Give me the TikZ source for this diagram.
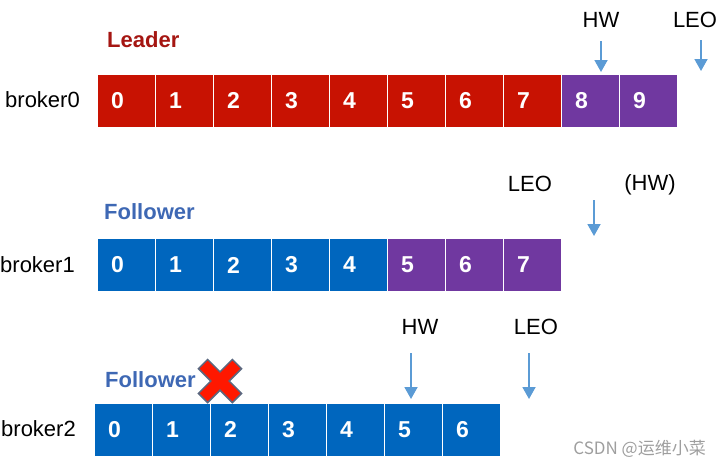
\documentclass[tikz,border=0pt]{standalone}
\usepackage{fontspec}
\setmainfont{Liberation Sans}
\newfontfamily\cjk{Noto Sans CJK SC}
\usepackage{tikz}
\usetikzlibrary{positioning, arrows.meta}
\definecolor{leadred}{RGB}{200,18,2}
\definecolor{lagpurple}{RGB}{112,56,160}
\definecolor{follblue}{RGB}{0,102,190}
\definecolor{leadtext}{RGB}{165,22,18}
\definecolor{folltext}{RGB}{62,104,180}
\definecolor{ptrblue}{RGB}{91,155,213}
\definecolor{crossred}{RGB}{255,24,0}
\definecolor{crossedge}{RGB}{90,104,128}

\begin{document}
\begin{tikzpicture}[x=1pt, y=-1pt, node distance=58pt, on grid,
  cell/.style={minimum height=53pt, text width=30pt, inner xsep=14pt, inner ysep=0pt,
    align=left, draw=white, line width=1pt, text=white,
    font=\fontsize{23}{23}\selectfont\bfseries},
  leadcell/.style={cell, fill=leadred},
  follcell/.style={cell, fill=follblue},
  lagcell/.style={cell, fill=lagpurple},
  tag/.style={font=\fontsize{22}{26}\selectfont, inner sep=0pt},
  role/.style={tag, anchor=west, font=\fontsize{22}{26}\selectfont\bfseries},
  ptr/.style={-{Triangle[length=12pt,width=13pt]}, draw=ptrblue, line width=1.8pt}]
  \useasboundingbox (0,0) rectangle (722,467);

  % broker0 (leader)
  \node[role, text=leadtext] (lead) at (107,40) {Leader};
  \node[tag, anchor=east] (br0) at (80,100) {broker0};
  \node[leadcell] (b0c0) at (126,100.5) {0};
  \foreach \i [count=\j from 0] in {1,...,7}
    \node[leadcell, right=of b0c\j] (b0c\i) {\i};
  \node[lagcell, right=of b0c7] (b0c8) {8};
  \node[lagcell, right=of b0c8] (b0c9) {9};

  \node[tag] (hw0) at (601,20) {HW};
  \node[tag] (leo0) at (695,20) {LEO};
  \coordinate (hw0a) at (601,41);
  \coordinate (hw0b) at (601,72);
  \coordinate (leo0a) at (701,40);
  \coordinate (leo0b) at (701,71);
  \draw[ptr] (hw0a) -- (hw0b);
  \draw[ptr] (leo0a) -- (leo0b);

  % broker1 (follower)
  \node[role, text=folltext] (foll1) at (104,212) {Follower};
  \node[tag, anchor=east] (br1) at (75,265) {broker1};
  \node[follcell] (b1c0) at (126,265) {0};
  \foreach \i [count=\j from 0] in {1,...,4}
    \node[follcell, right=of b1c\j] (b1c\i) {\i};
  \foreach \i [count=\j from 4] in {5,...,7}
    \node[lagcell, right=of b1c\j] (b1c\i) {\i};

  \node[tag] (leo1) at (530,184) {LEO};
  \node[tag] (hw1) at (650,185) {(HW)};
  \coordinate (leo1a) at (594,200);
  \coordinate (leo1b) at (594,236);
  \draw[ptr] (leo1a) -- (leo1b);

  % broker2 (follower, down)
  \node[role, text=folltext] (foll2) at (105,380) {Follower};
  \node[tag, anchor=east] (br2) at (76,429) {broker2};
  \node[follcell] (b2c0) at (123,429.5) {0};
  \foreach \i [count=\j from 0] in {1,...,6}
    \node[follcell, right=of b2c\j] (b2c\i) {\i};

  \node[tag] (hw2) at (420,327) {HW};
  \node[tag] (leo2) at (536,327) {LEO};
  \coordinate (hw2a) at (411,353);
  \coordinate (hw2b) at (411,399);
  \coordinate (leo2a) at (529,353);
  \coordinate (leo2b) at (529,399);
  \draw[ptr] (hw2a) -- (hw2b);
  \draw[ptr] (leo2a) -- (leo2b);

  % the cross on broker2
  \begin{scope}[shift={(220,381)}, rotate=45]
    \fill[crossred, draw=crossedge, line width=1.5pt]
      (6.5,24) -- (6.5,6.5) -- (24,6.5) -- (24,-6.5) -- (6.5,-6.5) -- (6.5,-24)
      -- (-6.5,-24) -- (-6.5,-6.5) -- (-24,-6.5) -- (-24,6.5) -- (-6.5,6.5)
      -- (-6.5,24) -- cycle;
  \end{scope}

  \node[tag, anchor=east, text=black!38, font=\cjk\fontsize{17}{20}\selectfont] (mark) at (706,449) {CSDN @运维小菜};
\end{tikzpicture}
\end{document}
